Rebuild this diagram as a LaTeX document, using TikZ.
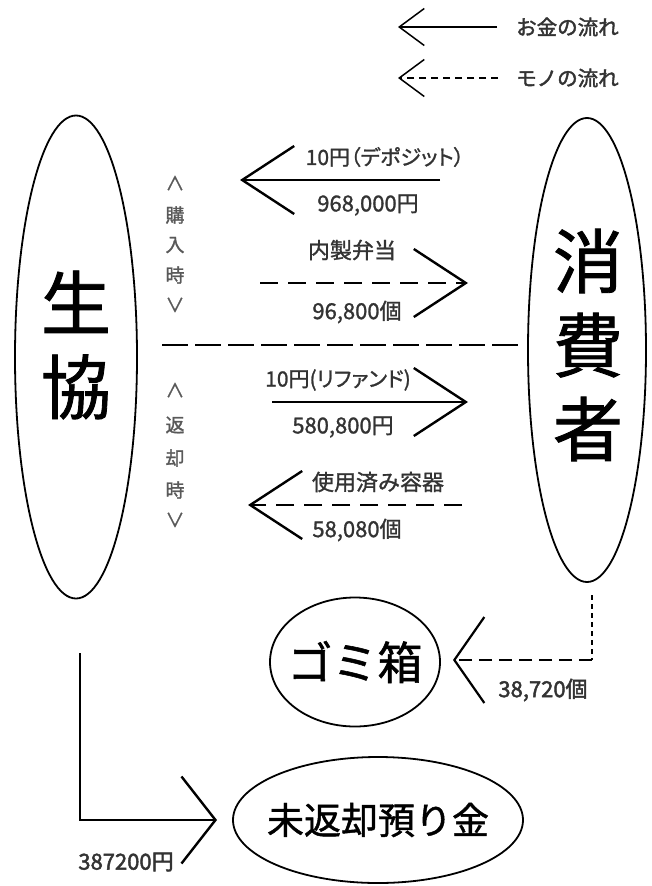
\documentclass[tikz,border=0pt]{standalone}
\usepackage{fontspec}
\setmainfont{Noto Sans CJK JP}
\newfontfamily\jpm{Noto Sans CJK JP}[FakeBold=1.2]
\newfontfamily\jpb{Noto Sans CJK JP}[FakeBold=2]
\usetikzlibrary{shapes.geometric,arrows.meta}
\begin{document}
\begin{tikzpicture}[x=1pt,y=-1pt,
  oval/.style={ellipse, draw, line width=1.8pt, inner sep=0pt},
  money/.style={line width=2.4pt, -{Straight Barb[length=52pt,width=68pt,line width=2.4pt]}},
  goods/.style={money, dash pattern=on 18pt off 10pt},
  legendarrow/.style={line width=1.5pt, -{Straight Barb[length=25pt,width=37pt,line width=1.5pt]}},
  lbl/.style={font=\jpm\fontsize{22}{24}\selectfont, text=black!80, inner sep=0pt},
  legendtext/.style={font=\jpb\fontsize{20.5}{22}\selectfont, text=black!80, inner sep=0pt},
  small/.style={font=\jpb\fontsize{22}{24}\selectfont, text=black!80, inner sep=0pt},
  vlbl/.style={font=\jpm\fontsize{19}{20}\selectfont, text=black!65, inner sep=0pt},
  big/.style={font=\jpm\fontsize{70}{84}\selectfont, align=center, inner sep=0pt}]

\useasboundingbox[fill=white] (0,0) rectangle (651,886);

% legend
\coordinate (l1s) at (497,27); \coordinate (l1e) at (398,27);
\coordinate (l2s) at (498,78); \coordinate (l2e) at (398,78);
\draw[legendarrow] (l1s) -- (l1e);
\draw[legendarrow, dash pattern=on 7pt off 5pt] (l2s) -- (l2e);
\node[legendtext, anchor=west] (lt1) at (516,27) {お金の流れ};
\node[legendtext, anchor=west] (lt2) at (516,78) {モノの流れ};

% main ovals
\node[oval, minimum width=122pt, minimum height=483pt] (seikyo) at (76,357) {};
\node[oval, minimum width=118pt, minimum height=464pt] (shohisha) at (587,350) {};
\node[oval, minimum width=170pt, minimum height=129pt] (gomi) at (355,662) {};
\node[oval, minimum width=290pt, minimum height=126pt] (mihen) at (378,820) {};

\node[big] (seikyoT) at (76,345) {生\\協};
\node[big] (shohishaT) at (588,345) {消\\費\\者};
\node[font=\jpm\fontsize{45}{45}\selectfont, inner sep=0pt] (gomiT) at (355,662) {ゴミ箱};
\node[font=\jpm\fontsize{37}{37}\selectfont, inner sep=0pt] (mihenT) at (378,820) {未返却預り金};

% vertical labels
\node[vlbl] (v1) at (175,183) {∧};
\node[vlbl] (v2) at (175,215) {購};
\node[vlbl] (v3) at (175,245) {入};
\node[vlbl] (v4) at (175,275) {時};
\node[vlbl] (v5) at (175,305) {∨};
\node[vlbl] (v6) at (175,390) {∧};
\node[vlbl] (v7) at (175,425) {返};
\node[vlbl] (v8) at (175,458) {却};
\node[vlbl] (v9) at (175,490) {時};
\node[vlbl] (v10) at (175,520) {∨};

% separator
\coordinate (sepL) at (162,345); \coordinate (sepR) at (522,345);
\draw[line width=2.6pt, dash pattern=on 26pt off 7pt] (sepL) -- (sepR);

% arrow 1: deposit
\coordinate (a1s) at (440,180); \coordinate (a1e) at (240,180);
\draw[money] (a1s) -- (a1e);
\node[lbl, font=\jpm\fontsize{21}{24}\selectfont] (a1t) at (385,157) {\addfontfeature{RawFeature=+palt}10円（デポジット）};
\node[lbl] (a1b) at (368,205) {968,000円};

% arrow 2: bento
\coordinate (a2s) at (260,283); \coordinate (a2e) at (468,283);
\draw[goods] (a2s) -- (a2e);
\node[lbl] (a2t) at (352,250) {内製弁当};
\node[lbl] (a2b) at (357,312) {96,800個};

% arrow 3: refund
\coordinate (a3s) at (272,402); \coordinate (a3e) at (468,402);
\draw[money] (a3s) -- (a3e);
\node[lbl, font=\jpm\fontsize{21}{24}\selectfont] (a3t) at (338,380) {\addfontfeature{RawFeature=+palt}10円(リファンド)};
\node[lbl] (a3b) at (343,427) {580,800円};

% arrow 4: used containers
\coordinate (a4s) at (462,505); \coordinate (a4e) at (248,505);
\draw[goods] (a4s) -- (a4e);
\node[lbl] (a4t) at (378,482) {使用済み容器};
\node[lbl] (a4b) at (357,530) {58,080個};

% to trash
\coordinate (g1) at (592,595); \coordinate (g2) at (592,660); \coordinate (g3) at (453,660);
\draw[line width=2.2pt, dash pattern=on 5pt off 4pt] (g1) -- (g2);
\draw[line width=2.2pt, dash pattern=on 13pt off 7pt, -{Straight Barb[length=30pt,width=86pt,line width=2.2pt]}] (g2) -- (g3);
\node[small] (gt) at (543,690) {38,720個};

% unreturned deposit
\coordinate (m1) at (80,653); \coordinate (m2) at (80,820); \coordinate (m3) at (217,820);
\draw[line width=2.4pt, -{Straight Barb[length=34pt,width=87pt,line width=2.4pt]}] (m1) -- (m2) -- (m3);
\node[small] (mt) at (126,862) {387200円};
\end{tikzpicture}
\end{document}
